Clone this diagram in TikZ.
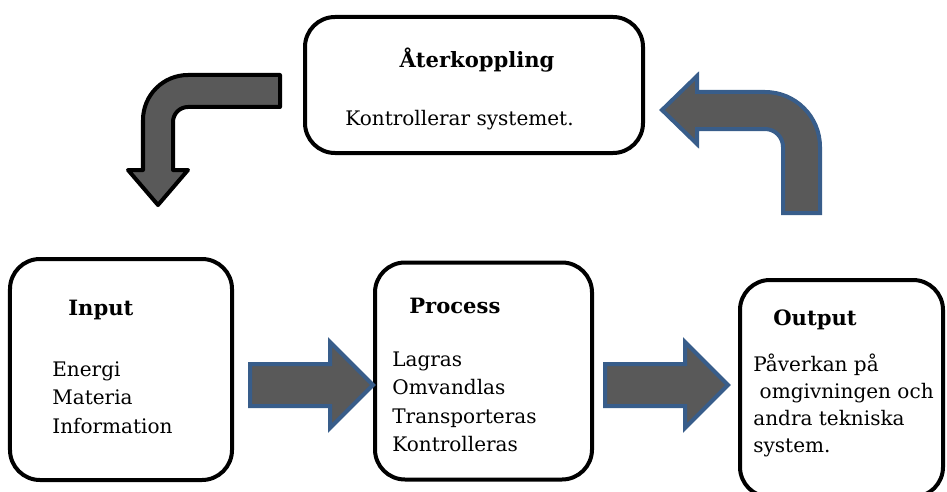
\documentclass[tikz,border=0pt]{standalone}
\usepackage{fontspec}
\setmainfont{DejaVu Serif}
\usepackage{xcolor}
\usepackage{tikz}
\usetikzlibrary{calc}

\definecolor{arrowgray}{HTML}{595959}
\definecolor{arrowblue}{HTML}{385D8A}

\begin{document}
\begin{tikzpicture}[x=0.2mm, y=0.2mm,
		box/.style={draw, line width=0.8mm, rounded corners=6mm, inner sep=0},
		title/.style={anchor=base west, inner sep=0, font=\fontsize{12}{15}\selectfont\bfseries},
		body/.style={anchor=base west, inner sep=0, font=\fontsize{11.4}{15}\selectfont},
		blackarrow/.style={draw=black, fill=arrowgray, line width=0.8mm, line join=round},
		bluearrow/.style={draw=arrowblue, fill=arrowgray, line width=0.8mm}]

		\useasboundingbox (0, 0) rectangle (947, 491);

		% boxes
		\node[box, minimum width=67.6mm, minimum height=27.2mm] (feedback) at (474, 406) {};
		\node[box, minimum width=44.4mm, minimum height=44.2mm] (input) at (121, 121.5) {};
		\node[box, minimum width=43.4mm, minimum height=43.4mm] (process) at (483.5, 120) {};
		\node[box, minimum width=40.6mm, minimum height=43.4mm] (output) at (841.5, 102.5) {};

		% texts
		\node[title, anchor=base] (feedback-title) at (477, 423) {Återkoppling};
		\node[body] (feedback-text) at (345, 366) {Kontrollerar systemet.};

		\node[title] (input-title) at (68, 176) {Input};
		\foreach \txt [count=\i from 0] in {Energi, Materia, Information} {
				\node[body] (input-\i) at (52, 115-28.5*\i) {\txt};
			}

		\node[title] (process-title) at (409, 178) {Process};
		\foreach \txt [count=\i from 0] in {Lagras, Omvandlas, Transporteras, Kontrolleras} {
				\node[body] (process-\i) at (392, 125-28.5*\i) {\txt};
			}

		\node[title] (output-title) at (773, 166) {Output};
		\foreach \txt [count=\i from 0] in {Påverkan på, \ omgivningen och, andra tekniska, system.} {
				\node[body] (output-\i) at (753, 120-27*\i) {\txt};
			}

		% arrows between the boxes
		\draw[bluearrow] ($(process.west)+(0, -14)$) -- ++(-43, 43) -- ++(0, -22) -- ++(-80, 0)
			-- ++(0, -42) -- ++(80, 0) -- ++(0, -22) -- cycle;
		\draw[bluearrow] ($(output.west)+(-10, 3.5)$) -- ++(-43, 43) -- ++(0, -22) -- ++(-80, 0)
			-- ++(0, -42) -- ++(80, 0) -- ++(0, -22) -- cycle;

		% feedback arrows
		\draw[bluearrow] ($(feedback.east)+(17, -25)$) -- ++(35, 34) -- ++(0, -16) -- ++(68, 0)
			arc[start angle=90, end angle=0, radius=55] -- ++(0, -66) -- ++(-37, 0) -- ++(0, 66)
			arc[start angle=0, end angle=90, radius=18] -- ++(-68, 0) -- ++(0, -15) -- cycle;
		\draw[blackarrow] ($(feedback.west)+(-23, 10)$) -- ++(-92, 0)
			arc[start angle=90, end angle=180, radius=45] -- ++(0, -50) -- ++(-15, 0) -- ++(30, -35)
			-- ++(30, 35) -- ++(-15, 0) -- ++(0, 48)
			arc[start angle=180, end angle=90, radius=15] -- ++(92, 0) -- cycle;

	\end{tikzpicture}
\end{document}
